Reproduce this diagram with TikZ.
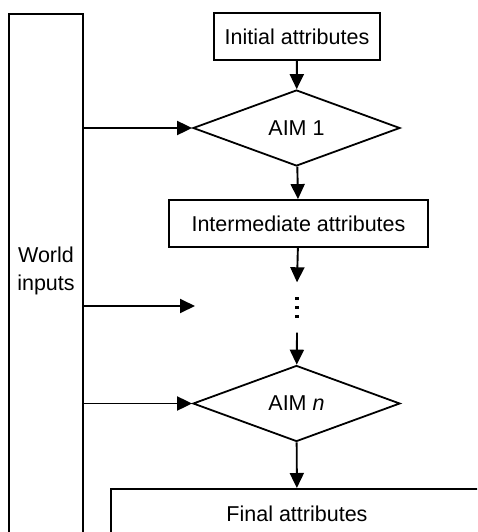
\documentclass[tikz,border=0pt]{standalone}
\usepackage{fontspec}
\setmainfont{Liberation Sans}
\usetikzlibrary{shapes.geometric,arrows.meta}
\begin{document}
\begin{tikzpicture}[x=1pt,y=-1pt,
  every node/.style={font=\fontsize{21.5}{28.5}\selectfont, inner sep=0pt},
  box/.style={draw, line width=1.8pt, rectangle},
  dec/.style={draw, line width=1.8pt, diamond, minimum width=207pt, minimum height=76pt},
  arr/.style={line width=1.9pt, -{Triangle[length=15pt,width=14pt]}},
  ln/.style={line width=1.8pt}]
\useasboundingbox (0,0) rectangle (477,532);
\clip (0,0) rectangle (477,532);
% world inputs
\node[box, minimum width=74pt, minimum height=600pt, anchor=north] (world) at (46,13) {};
\node[align=center] (worldtxt) at (46,271) {World\\inputs};
% main chain
\node[box, minimum width=166pt, minimum height=47pt] (init) at (297,36.5) {Initial attributes};
\node[dec] (aim1) at (296.5,128) {AIM 1};
\node[box, minimum width=259pt, minimum height=47pt] (inter) at (298.5,223.5) {Intermediate attributes};
\node[minimum width=6pt, minimum height=50pt] (dots) at (297,307.5) {};
\node[dec] (aimn) at (296.5,403.5) {AIM \textit{n}};
\node[box, minimum width=372pt, minimum height=50pt, anchor=north] (final) at (297,488) {Final attributes};
\coordinate (gap) at (195,306);
% dots
\foreach \yy in {-9,0,9} \fill ([yshift=\yy pt]dots.center) +(-1.7,-1.7) rectangle +(1.7,1.7);
% arrows
\draw[arr] (init) -- (aim1);
\draw[arr] (aim1) -- (inter);
\draw[arr] (inter) -- (dots.north);
\draw[arr] (dots.south) -- (aimn);
\draw[arr] (aimn) -- (final);
\draw[arr] (world.east |- aim1.west) -- (aim1.west);
\draw[arr] (world.east |- gap) -- (gap);
\draw[arr] (world.east |- aimn.west) -- (aimn.west);
\end{tikzpicture}
\end{document}
